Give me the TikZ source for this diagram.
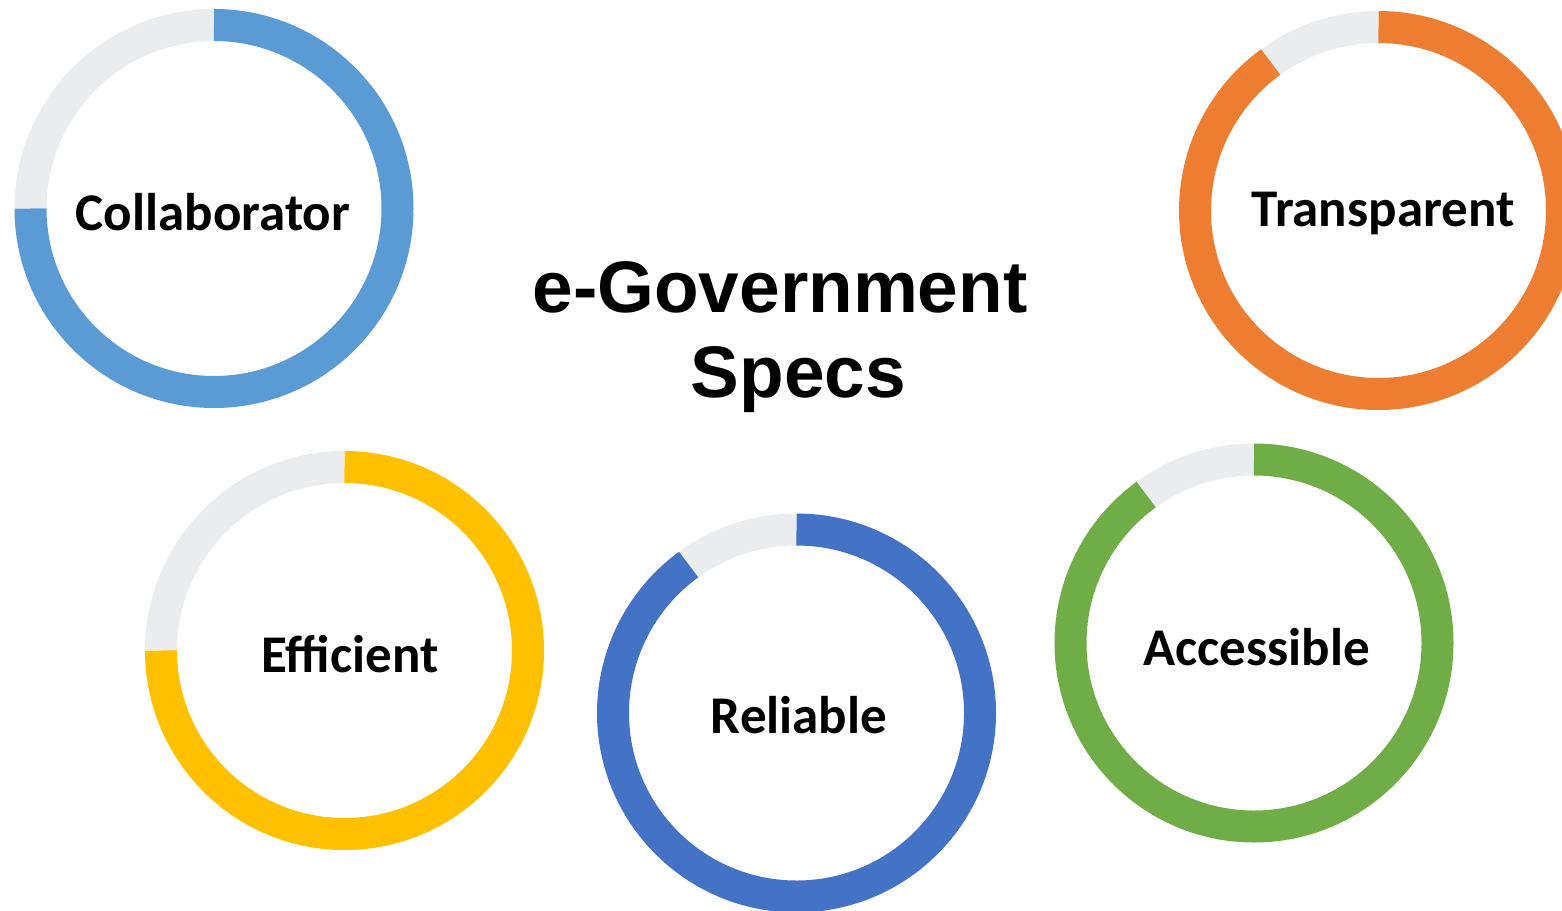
\documentclass[tikz,border=0pt]{standalone}
\usepackage{fontspec}
\setmainfont{Carlito}
\newfontfamily\titlefont{Liberation Sans}
\definecolor{ringgray}{HTML}{EBECEE}
\definecolor{c1}{HTML}{5B9BD5}
\definecolor{c2}{HTML}{ED7D31}
\definecolor{c3}{HTML}{FFC000}
\definecolor{c4}{HTML}{4472C4}
\definecolor{c5}{HTML}{70AD47}
\tikzset{
  ringseg/.style={line width=32pt},
  lbl/.style={anchor=base,inner sep=0pt,font=\fontsize{53}{58}\selectfont\bfseries},
  ttl/.style={anchor=base,inner sep=0pt,font=\fontsize{73}{80}\selectfont\titlefont\bfseries}
}
\newcommand\myring[4]{%
  \coordinate (#1) at (#2);
  \draw[ringseg,ringgray] (#1) ++(90:183.5) arc[start angle=90,end angle=#4,radius=183.5];
  \draw[ringseg,#3] (#1) ++(90:183.5) arc[start angle=90,end angle=#4-360,radius=183.5];
}
\begin{document}
\begin{tikzpicture}[x=1pt,y=1pt]
\useasboundingbox (0,0) rectangle (1562,-910);
\clip (0,0) rectangle (1562,-910);
\fill[white] (0,0) rectangle (1562,-910);
\myring{r1}{214,-208.5}{c1}{180}
\myring{r2}{1378.5,-210.5}{c2}{126}
\myring{r3}{344.5,-650.5}{c3}{180}
\myring{r4}{796.5,-713}{c4}{126}
\myring{r5}{1254,-643}{c5}{126}
\node[lbl] (l1) at (213,-230) {Collaborator};
\node[lbl] (l2) at (1383,-226) {Transparent};
\node[lbl] (l3) at (350,-672) {Efficient};
\node[lbl] (l4) at (799,-733) {Reliable};
\node[lbl] (l5) at (1256.5,-665) {Accessible};
\node[ttl] (t1) at (780,-312) {e-Government};
\node[ttl] (t2) at (798.5,-397) {Specs};
\end{tikzpicture}
\end{document}
